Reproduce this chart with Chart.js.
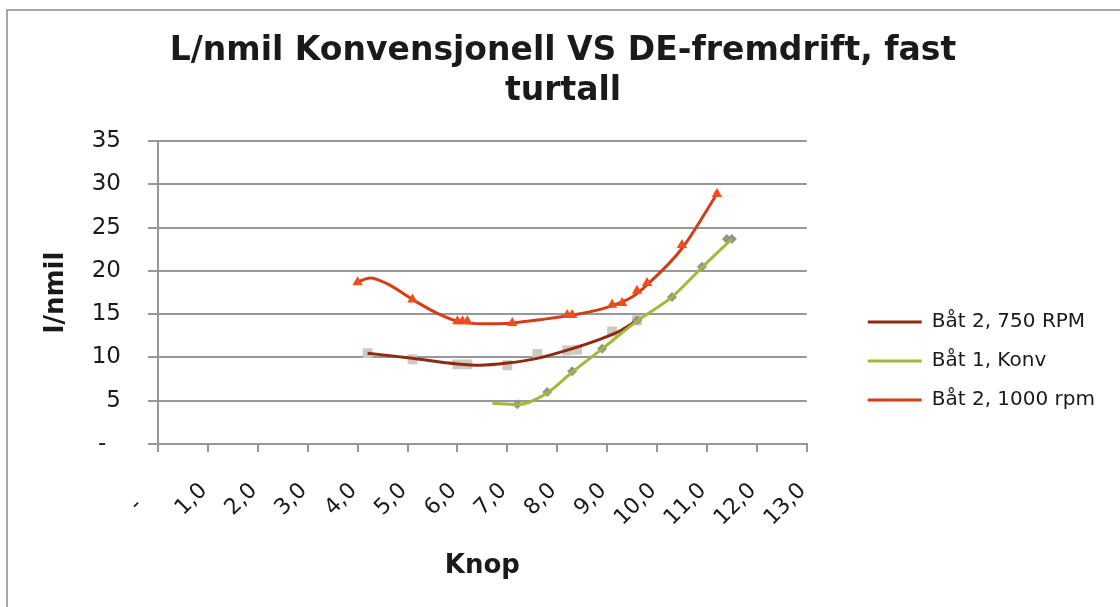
<!DOCTYPE html>
<html>
<head>
<meta charset="utf-8">
<title>L/nmil Konvensjonell VS DE-fremdrift, fast turtall</title>
<script src="https://cdn.jsdelivr.net/npm/chart.js"></script>
<style>
  html, body { margin: 0; padding: 0; background: #fff; overflow: hidden; }
  #ramme { position: absolute; left: 6px; top: 9px; width: 1200px; height: 700px; border: 2px solid #a6a6a6; }
  #myChart { position: absolute; left: 0; top: 0; }
</style>
</head>
<body>
<div id="ramme"></div>
<canvas id="myChart" width="1120" height="607"></canvas>
<script>
// Båt 2, 750 RPM - målepunkter (grå firkanter) og trendkurve
var knop_750 = [4.2, 5.1, 6.0, 6.2, 7.0, 7.6, 8.2, 8.4, 9.1, 9.6];
var lnmil_750 = [10.5, 9.8, 9.2, 9.2, 9.1, 10.4, 10.8, 10.9, 13.0, 14.3];
var kurve_knop_750 = [4.2, 5.1, 6.0, 6.45, 7.0, 7.6, 8.2, 8.85, 9.3, 9.6];
var kurve_lnmil_750 = [10.5, 9.9, 9.25, 9.1, 9.35, 9.9, 10.85, 12.1, 13.2, 14.3];

// Båt 1, Konv - målepunkter (grå ruter) og kurve
var knop_konv = [7.2, 7.8, 8.3, 8.9, 9.6, 10.3, 10.9, 11.4, 11.5];
var lnmil_konv = [4.6, 6.0, 8.4, 11.0, 14.3, 17.0, 20.5, 23.7, 23.7];
var kurve_knop_konv = [6.7, 7.2, 7.8, 8.3, 8.9, 9.6, 10.3, 10.9, 11.5];
var kurve_lnmil_konv = [4.7, 4.55, 5.9, 8.3, 11.0, 14.2, 17.0, 20.4, 23.7];

// Båt 2, 1000 rpm - målepunkter (trekanter) og kurve
var knop_1000 = [4.0, 5.1, 6.0, 6.1, 6.2, 7.1, 8.2, 8.3, 9.1, 9.3, 9.6, 9.8, 10.5, 11.2];
var lnmil_1000 = [18.7, 16.7, 14.2, 14.2, 14.2, 14.0, 14.9, 14.9, 16.1, 16.3, 17.7, 18.6, 23.0, 28.9];
var kurve_knop_1000 = [4.0, 4.25, 4.6, 5.1, 5.6, 6.0, 6.5, 7.1, 7.7, 8.3, 9.0, 9.5, 9.8, 10.5, 11.2];
var kurve_lnmil_1000 = [18.7, 19.2, 18.5, 16.7, 15.1, 14.2, 13.9, 14.0, 14.4, 14.9, 15.8, 17.0, 18.4, 22.6, 28.9];

var serie_navn = ['Båt 2, 750 RPM', 'Båt 1, Konv', 'Båt 2, 1000 rpm'];
var tittel = ['L/nmil Konvensjonell VS DE-fremdrift, fast', 'turtall'];

var font_navn = '"DejaVu Sans", Verdana, sans-serif';
var tekst_farge = '#1a1a1a';
var linje_grå = '#979797';

function par(xs, ys) {
    var arr = [];
    for (var i = 0; i < xs.length; i++) {
        arr.push({x: xs[i], y: ys[i]});
    }
    return arr;
}

function kurve(label, xs, ys, color, order) {
    return {
        label: label,
        data: par(xs, ys),
        showLine: true,
        borderColor: color,
        backgroundColor: color,
        borderWidth: 3,
        pointRadius: 0,
        cubicInterpolationMode: 'monotone',
        fill: false,
        order: order
    };
}

function punkter(label, xs, ys, style, radius, color, order) {
    return {
        label: label,
        data: par(xs, ys),
        showLine: false,
        pointStyle: style,
        pointRadius: radius,
        pointBackgroundColor: color,
        pointBorderWidth: 0,
        backgroundColor: color,
        borderColor: color,
        order: order
    };
}

// legenden står et stykke til høyre for plottet, tittelen midt på hele bildet
var legende_luft = {
    id: 'legende_luft',
    afterLayout: function(chart) {
        chart.legend.left += 42;
        chart.legend.right += 42;
        chart.titleBlock.left += 6;
        chart.titleBlock.right += 57;
    }
};

var ctx = document.getElementById('myChart').getContext('2d');
var myChart = new Chart(ctx, {
    type: 'scatter',
    plugins: [legende_luft],
    data: {
        datasets: [
            kurve(serie_navn[0], kurve_knop_750, kurve_lnmil_750, '#8e2a12', 4),
            kurve(serie_navn[1], kurve_knop_konv, kurve_lnmil_konv, '#9bbb3b', 2),
            kurve(serie_navn[2], kurve_knop_1000, kurve_lnmil_1000, '#d23e16', 1),
            punkter('1000 punkter', knop_1000, lnmil_1000, 'triangle', 6, '#f04c1e', 0),
            punkter('Konv punkter', knop_konv, lnmil_konv, 'rectRot', 5, '#9a9089', 3),
            punkter('750 punkter', knop_750, lnmil_750, 'rect', 7, '#d0c8bd', 5)
        ]
    },
    options: {
        responsive: false,
        animation: false,
        layout: { padding: { left: 0, right: 57, top: 0, bottom: 0 } },
        plugins: {
            tooltip: { enabled: false },
            title: {
                display: true,
                text: tittel,
                color: tekst_farge,
                font: { family: font_navn, size: 33, weight: 'bold', lineHeight: 1.2 },
                padding: { top: 32, bottom: 30 }
            },
            legend: {
                display: true,
                position: 'right',
                align: 'start',
                title: {
                    display: true,
                    text: ' ',
                    font: { size: 10, lineHeight: 1 },
                    padding: { top: 283, bottom: 0 }
                },
                labels: {
                    color: tekst_farge,
                    font: { family: font_navn, size: 20 },
                    boxWidth: 54,
                    boxHeight: 3,
                    padding: 19,
                    sort: function(a, b) { return a.datasetIndex - b.datasetIndex; },
                    generateLabels: function(chart) {
                        var items = Chart.defaults.plugins.legend.labels.generateLabels(chart);
                        return items.filter(function(it) { return it.datasetIndex < 3; }).map(function(it) {
                            it.fillStyle = it.strokeStyle;
                            it.lineWidth = 0;
                            return it;
                        });
                    }
                },
                onClick: function() { return true; }
            }
        },
        scales: {
            x: {
                type: 'linear',
                min: 0,
                max: 13,
                ticks: {
                    stepSize: 1,
                    minRotation: 45,
                    maxRotation: 45,
                    autoSkip: false,
                    padding: 26,
                    labelOffset: -4,
                    color: tekst_farge,
                    font: { family: font_navn, size: 22 },
                    callback: function(v) {
                        if (v === 0) return '-   ';
                        return v.toFixed(1).replace('.', ',');
                    }
                },
                grid: { drawOnChartArea: false, color: linje_grå, lineWidth: 2, tickLength: 8 },
                border: { color: linje_grå, width: 2 },
                title: {
                    display: true,
                    text: 'Knop',
                    color: tekst_farge,
                    font: { family: font_navn, size: 26, weight: 'bold', lineHeight: 1.2 },
                    padding: { top: 0, bottom: 25 }
                },
                afterFit: function(scale) { scale.height = 163; }
            },
            y: {
                min: 0,
                max: 35,
                ticks: {
                    stepSize: 5,
                    padding: 27,
                    color: tekst_farge,
                    font: { family: font_navn, size: 23 },
                    callback: function(v) { return v === 0 ? '-  ' : v; }
                },
                grid: { color: linje_grå, lineWidth: 2, tickLength: 10 },
                border: { color: linje_grå, width: 2 },
                title: {
                    display: true,
                    text: 'l/nmil',
                    color: tekst_farge,
                    font: { family: font_navn, size: 26, weight: 'bold', lineHeight: 1.2 },
                    padding: { top: 41, bottom: 0 }
                },
                afterFit: function(scale) { scale.width = 158; }
            }
        }
    }
});
</script>
</body>
</html>
